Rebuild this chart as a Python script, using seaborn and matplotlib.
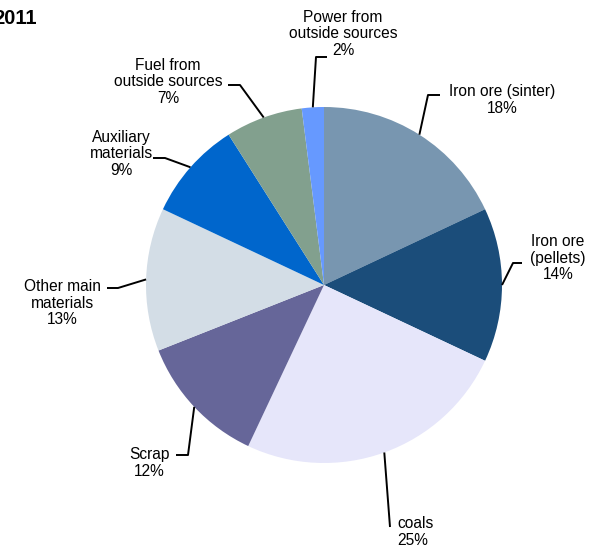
import numpy as np
import matplotlib
matplotlib.use("Agg")
import matplotlib.pyplot as plt
import seaborn as sns

sns.set_theme(style="white")
plt.rcParams['font.family'] = ['Liberation Sans', 'DejaVu Sans']

# data
labels = ["Iron ore (sinter)", "Iron ore\n(pellets)", "coals", "Scrap",
          "Other main\nmaterials", "Auxiliary\nmaterials",
          "Fuel from\noutside sources", "Power from\noutside sources"]
shares = [18, 14, 25, 12, 13, 9, 7, 2]
colors = ["#7896B0", "#1B4D7A", "#E6E6FA", "#666699",
          "#D3DDE6", "#0066CC", "#82A08E", "#6699FF"]

W, H = 590, 547
cx, cy, r = 324, 285, 178

# layout of leader lines and labels, in pixel units (y from top)
# (elbow, horizontal end, text pos, ha)
layout = [
    ((428, 95), (440, 95), (502, 100), "center"),
    ((513, 263), (522, 263), (558, 258), "center"),
    ((390, 527), (390, 527), (397, 532), "left"),
    ((188, 455), (176, 455), (149, 463), "center"),
    ((118, 288), (107, 288), (62, 303), "center"),
    ((165, 158), (153, 158), (121, 154), "center"),
    ((240, 85), (228, 85), (168, 82), "center"),
    ((316, 57), (327, 57), (343, 34), "center"),
]

fig = plt.figure(figsize=(W / 100, H / 100), dpi=100)
ax = fig.add_axes([0, 0, 1, 1])

wedges, _ = ax.pie(shares, colors=colors, startangle=90, counterclock=False,
                   center=(cx, H - cy), radius=r, frame=True,
                   wedgeprops=dict(linewidth=0))

for w, lab, s, (elb, end, tpos, ha) in zip(wedges, labels, shares, layout):
    ang = np.deg2rad((w.theta1 + w.theta2) / 2)
    px = cx + r * np.cos(ang)
    py = (H - cy) + r * np.sin(ang)
    ax.plot([px, elb[0], end[0]], [py, H - elb[1], H - end[1]],
            color="black", lw=1.4, solid_capstyle="butt", zorder=3)
    ax.text(tpos[0], H - tpos[1], f"{lab}\n{s}%", ha=ha, va="center",
            fontsize=11.2, linespacing=1.1, color="black")

ax.text(37, H - 19, "2011", ha="right", va="center", fontsize=14.5,
        fontweight="bold", color="black")

ax.set_xlim(0, W)
ax.set_ylim(0, H)
ax.set_aspect("equal")
ax.axis("off")

fig.savefig("out.png", dpi=100, facecolor="white")
